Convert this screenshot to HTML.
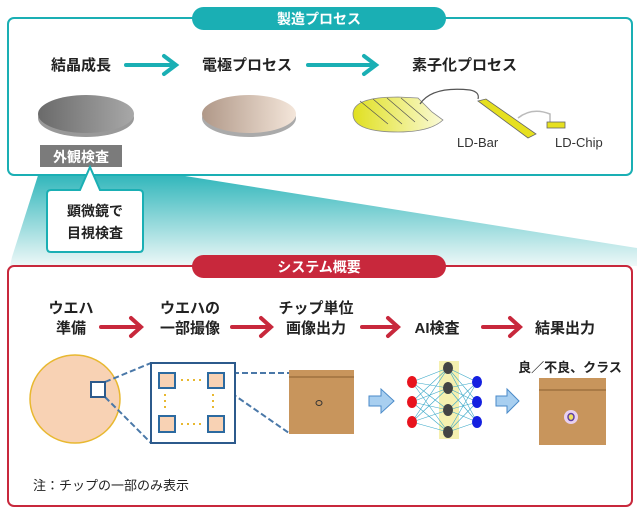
<!DOCTYPE html>
<html><head><meta charset="utf-8"><style>
html,body{margin:0;padding:0;background:#fff;}
svg{display:block;}
text{font-family:"Liberation Sans","Noto Sans CJK JP",sans-serif;}
</style></head><body>
<svg width="640" height="512" viewBox="0 0 640 512" xmlns="http://www.w3.org/2000/svg">
<defs>
<linearGradient id="tg" x1="0" y1="0" x2="0" y2="1">
<stop offset="0" stop-color="#1fb0b5"/><stop offset="1" stop-color="#eef8f8"/></linearGradient>
<linearGradient id="gw" x1="0" y1="0" x2="1" y2="0">
<stop offset="0" stop-color="#6a6a6a"/><stop offset="1" stop-color="#a8a8a8"/></linearGradient>
<linearGradient id="bw" x1="0" y1="0" x2="1" y2="0">
<stop offset="0" stop-color="#b09888"/><stop offset="1" stop-color="#f4e6da"/></linearGradient>
<linearGradient id="yw" x1="0" y1="0" x2="1" y2="0">
<stop offset="0" stop-color="#e0e020"/><stop offset="1" stop-color="#fafad8"/></linearGradient>
</defs>
<polygon points="41,166 122,166 637,248 637,266 10,266 12,257" fill="url(#tg)"/>
<rect x="8" y="18" width="624" height="157" rx="6" fill="#fff" stroke="#1aafb4" stroke-width="2"/>
<rect x="192" y="7" width="254" height="23" rx="11.5" fill="#1aafb4"/>
<text x="319" y="24" font-size="14" font-weight="bold" fill="#fff" text-anchor="middle">製造プロセス</text>
<g font-size="15" font-weight="bold" fill="#222">
<text x="51" y="70">結晶成長</text>
<text x="202" y="70">電極プロセス</text>
<text x="412" y="70">素子化プロセス</text>
</g>
<g stroke="#1aafb4" stroke-width="4" fill="none" stroke-linecap="round">
<line x1="126" y1="65" x2="174" y2="65"/><polyline points="164,56 176,65 164,74"/>
<line x1="308" y1="65" x2="374" y2="65"/><polyline points="364,56 376,65 364,74"/>
</g>
<ellipse cx="86" cy="118" rx="48" ry="19" fill="#999"/>
<ellipse cx="86" cy="114" rx="48" ry="19" fill="url(#gw)"/>
<ellipse cx="249" cy="118" rx="47" ry="19" fill="#aaa"/>
<ellipse cx="249" cy="114" rx="47" ry="19" fill="url(#bw)"/>
<path d="M353,114 Q353,97 398,97 L418,98 L432,112 L443,120 Q430,132 398,132 Q353,132 353,114Z" fill="url(#yw)" stroke="#888" stroke-width="0.8"/>
<g stroke="#555" stroke-width="0.7">
<line x1="360" y1="101" x2="388" y2="124"/><line x1="373" y1="99" x2="402" y2="124"/><line x1="387" y1="98" x2="415" y2="122"/><line x1="401" y1="98" x2="428" y2="121"/>
</g>
<path d="M420,104 Q432,86 470,90 Q480,92 478,99" fill="none" stroke="#555" stroke-width="1.2"/>
<polygon points="478,101 486,99 536,134 528,138" fill="#e6e020" stroke="#666" stroke-width="0.8"/>
<path d="M518,118 Q532,107 550,114 L550,122" fill="none" stroke="#bbb" stroke-width="1.5"/>
<rect x="547" y="122" width="18" height="6" fill="#e6e020" stroke="#666" stroke-width="0.8"/>
<text x="457" y="147" font-size="13" fill="#333">LD-Bar</text>
<text x="555" y="147" font-size="13" fill="#333">LD-Chip</text>
<rect x="40" y="145" width="82" height="22" fill="#7b7b7b"/>
<text x="81" y="162" font-size="14" font-weight="bold" fill="#fff" text-anchor="middle">外観検査</text>
<path d="M51,190 L80,190 L90,167 L100,190 L139,190 Q143,190 143,194 L143,248 Q143,252 139,252 L51,252 Q47,252 47,248 L47,194 Q47,190 51,190Z" fill="#fff" stroke="#1aafb4" stroke-width="2"/>
<text x="95" y="216" font-size="14" font-weight="bold" fill="#222" text-anchor="middle">顕微鏡で</text>
<text x="95" y="238" font-size="14" font-weight="bold" fill="#222" text-anchor="middle">目視検査</text>
<rect x="8" y="266" width="624" height="240" rx="6" fill="#fff" stroke="#c8283c" stroke-width="2"/>
<rect x="192" y="255" width="254" height="23" rx="11.5" fill="#c8283c"/>
<text x="319" y="272" font-size="14" font-weight="bold" fill="#fff" text-anchor="middle">システム概要</text>
<g font-size="15" font-weight="bold" fill="#222" text-anchor="middle">
<text x="71" y="313">ウエハ</text><text x="71" y="333">準備</text>
<text x="190" y="313">ウエハの</text><text x="190" y="333">一部撮像</text>
<text x="316" y="313">チップ単位</text><text x="316" y="333">画像出力</text>
<text x="437" y="333">AI検査</text>
<text x="565" y="333">結果出力</text>
</g>
<g stroke="#c8283c" stroke-width="4" fill="none" stroke-linecap="round">
<line x1="101" y1="327" x2="140" y2="327"/><polyline points="131,318 141,327 131,336"/>
<line x1="232" y1="327" x2="270" y2="327"/><polyline points="261,318 271,327 261,336"/>
<line x1="362" y1="327" x2="397" y2="327"/><polyline points="388,318 398,327 388,336"/>
<line x1="483" y1="327" x2="519" y2="327"/><polyline points="510,318 520,327 510,336"/>
</g>
<ellipse cx="75" cy="399" rx="45" ry="44" fill="#f8d2b4" stroke="#e8b830" stroke-width="1.5"/>
<g stroke="#4a78a8" stroke-width="2" stroke-dasharray="6,3" fill="none">
<line x1="105" y1="382" x2="151" y2="363"/><line x1="105" y1="397" x2="151" y2="443"/>
<line x1="224" y1="373" x2="289" y2="373"/><line x1="224" y1="388" x2="289" y2="433"/>
</g>
<rect x="91" y="382" width="14" height="15" fill="#fff" stroke="#2c5a8c" stroke-width="2"/>
<rect x="151" y="363" width="84" height="80" fill="#fff" stroke="#2c5a8c" stroke-width="2"/>
<g fill="#f8d2b4" stroke="#2c6aa0" stroke-width="2">
<rect x="159" y="373" width="16" height="15"/><rect x="208" y="373" width="16" height="15"/>
<rect x="159" y="416" width="16" height="16"/><rect x="208" y="416" width="16" height="16"/>
</g>
<g stroke="#e8b830" stroke-width="2" stroke-dasharray="2,4">
<line x1="181" y1="380" x2="202" y2="380"/><line x1="181" y1="424" x2="202" y2="424"/>
<line x1="165" y1="394" x2="165" y2="411"/><line x1="213" y1="394" x2="213" y2="411"/>
</g>
<rect x="289" y="370" width="65" height="64" fill="#c8955c"/>
<line x1="289" y1="377" x2="354" y2="377" stroke="#8a6030" stroke-width="1"/>
<ellipse cx="319" cy="403" rx="3" ry="2.5" fill="none" stroke="#333" stroke-width="1"/>
<polygon points="369,396 381,396 381,389 394,401 381,413 381,406 369,406" fill="#a8cff0" stroke="#4a8ac8" stroke-width="1"/>
<polygon points="496,396 507,396 507,389 519,401 507,413 507,406 496,406" fill="#a8cff0" stroke="#4a8ac8" stroke-width="1"/>
<rect x="439" y="361" width="20" height="78" fill="#f5f0b0"/>
<g stroke="#3aa8c8" stroke-width="0.6">
<path d="M412,382 L448,368 M412,382 L448,388 M412,382 L448,410 M412,382 L448,432 M412,402 L448,368 M412,402 L448,388 M412,402 L448,410 M412,402 L448,432 M412,422 L448,368 M412,422 L448,388 M412,422 L448,410 M412,422 L448,432 M477,382 L448,368 M477,382 L448,388 M477,382 L448,410 M477,382 L448,432 M477,402 L448,368 M477,402 L448,388 M477,402 L448,410 M477,402 L448,432 M477,422 L448,368 M477,422 L448,388 M477,422 L448,410 M477,422 L448,432"/>
</g>
<g fill="#e8141e"><ellipse cx="412" cy="382" rx="5" ry="6"/><ellipse cx="412" cy="402" rx="5" ry="6"/><ellipse cx="412" cy="422" rx="5" ry="6"/></g>
<g fill="#444"><ellipse cx="448" cy="368" rx="5" ry="6"/><ellipse cx="448" cy="388" rx="5" ry="6"/><ellipse cx="448" cy="410" rx="5" ry="6"/><ellipse cx="448" cy="432" rx="5" ry="6"/></g>
<g fill="#1420e0"><ellipse cx="477" cy="382" rx="5" ry="6"/><ellipse cx="477" cy="402" rx="5" ry="6"/><ellipse cx="477" cy="422" rx="5" ry="6"/></g>
<text x="570" y="372" font-size="13" font-weight="bold" fill="#222" text-anchor="middle">良／不良、クラス</text>
<rect x="539" y="378" width="67" height="67" fill="#c8955c"/>
<line x1="539" y1="390" x2="606" y2="390" stroke="#8a6030" stroke-width="1"/>
<circle cx="571" cy="417" r="7" fill="#e8d0f0"/>
<ellipse cx="571" cy="417" rx="3" ry="3.5" fill="#f0e060" stroke="#6040a0" stroke-width="1.5"/>
<text x="33" y="490" font-size="13" fill="#222">注：チップの一部のみ表示</text>
</svg>
</body></html>
